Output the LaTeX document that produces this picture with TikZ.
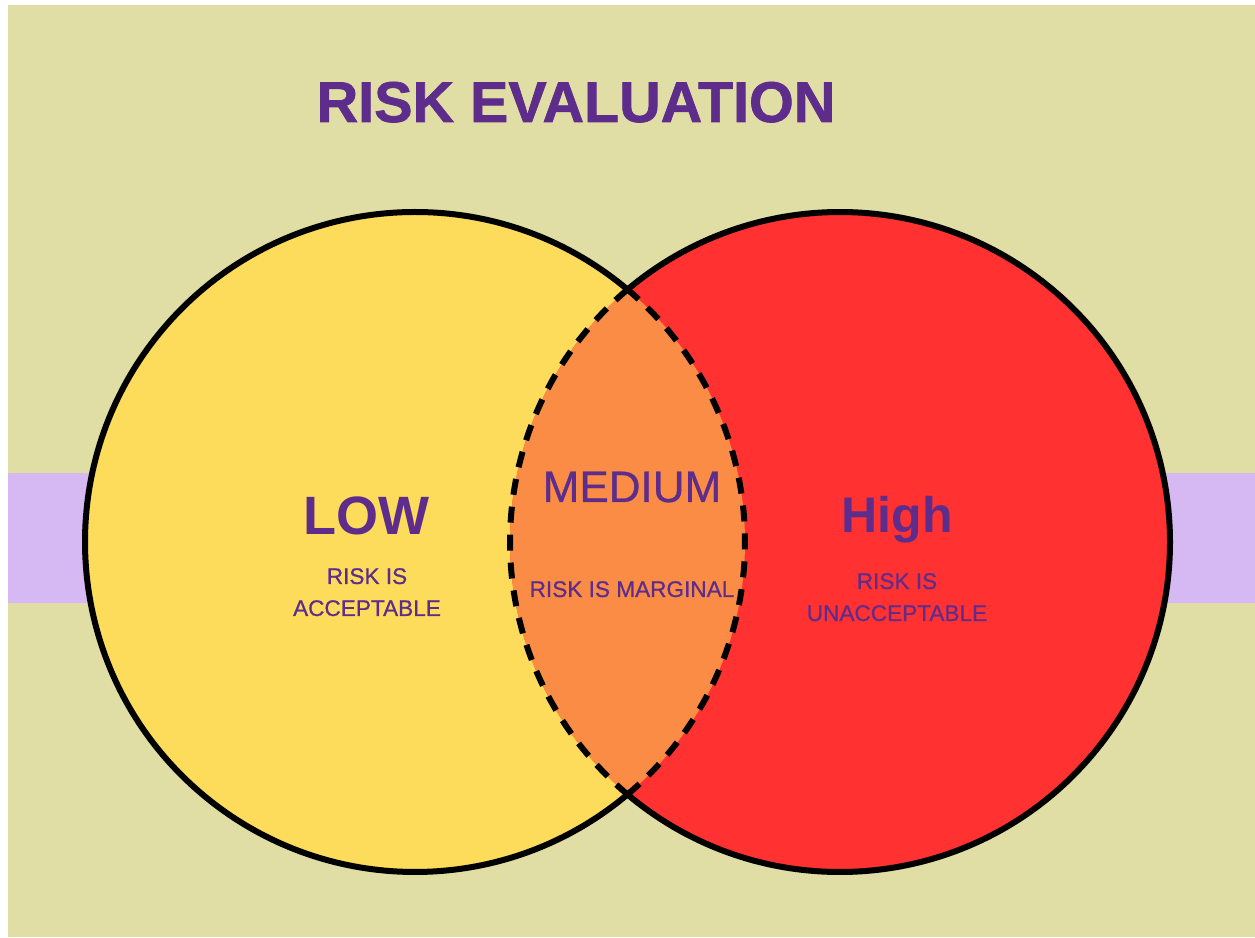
\documentclass[tikz,border=0pt]{standalone}
\usepackage{fontspec}
\setmainfont{Liberation Sans}
\newfontfamily\medsans{Liberation Sans}[FakeBold=0.7]
\newfontfamily\heavysans{Liberation Sans Bold}[FakeBold=1.2]
\usepackage{xcolor}
\usepackage{tikz}
\usetikzlibrary{positioning}

\definecolor{khaki}{HTML}{E0DEA4}
\definecolor{lilac}{HTML}{D6B8F2}
\definecolor{lowyellow}{HTML}{FCDC5A}
\definecolor{highred}{HTML}{FF3131}
\definecolor{midorange}{HTML}{FB8C45}
\definecolor{inkpurple}{HTML}{5E2D8C}

\begin{document}
\begin{tikzpicture}[x=1pt, y=1pt,
	headline/.style={text=inkpurple, inner sep=0pt, font=\bfseries\fontsize{54}{60}\selectfont},
	subline/.style={text=inkpurple, inner sep=0pt, align=center, font=\medsans\fontsize{22.6}{32}\selectfont},
	rim/.style={line width=6pt},
	lensrim/.style={line width=6pt, dash pattern=on 16pt off 12pt}]

\useasboundingbox (0,0) rectangle (1255,937);

% ---- fondo ----
\fill[khaki] (8,0) rectangle (1255,932);
\fill[lilac] (8,334) rectangle (1255,464);

% ---- círculos ----
\coordinate (lowc) at (415,395);
\coordinate (highc) at (840,395);
\fill[lowyellow] (lowc) circle[radius=330];
\fill[highred] (highc) circle[radius=330];
\begin{scope}
	\clip (lowc) circle[radius=330];
	\fill[midorange] (highc) circle[radius=330];
\end{scope}
% bordes exteriores y lente punteada
\draw[rim] ([shift={(49.9:330)}]lowc) arc[start angle=49.9, end angle=310.1, radius=330];
\draw[rim] ([shift={(-130.1:330)}]highc) arc[start angle=-130.1, end angle=130.1, radius=330];
\draw[lensrim] ([shift={(-49.9:330)}]lowc) arc[start angle=-49.9, end angle=49.9, radius=330];
\draw[lensrim] ([shift={(130.1:330)}]highc) arc[start angle=130.1, end angle=229.9, radius=330];

% ---- textos ----
\node[headline, anchor=base, font=\heavysans\fontsize{57.5}{60}\selectfont] (title) at (576,815) {RISK EVALUATION};

\node[headline, anchor=base] (low) at (366,402) {LOW};
\node[subline, anchor=north] (lowtxt) at (367,369) {RISK IS\\ACCEPTABLE};

\node[headline, anchor=base, font=\medsans\fontsize{44}{50}\selectfont] (medium) at (632,435) {MEDIUM};
\node[subline, anchor=base] (midtxt) at (632,340) {RISK IS MARGINAL};

\node[headline, anchor=base, font=\bfseries\fontsize{50}{56}\selectfont] (high) at (897,404) {High};
\node[subline, anchor=north] (hightxt) at (897,364) {RISK IS\\UNACCEPTABLE};
\end{tikzpicture}
\end{document}
